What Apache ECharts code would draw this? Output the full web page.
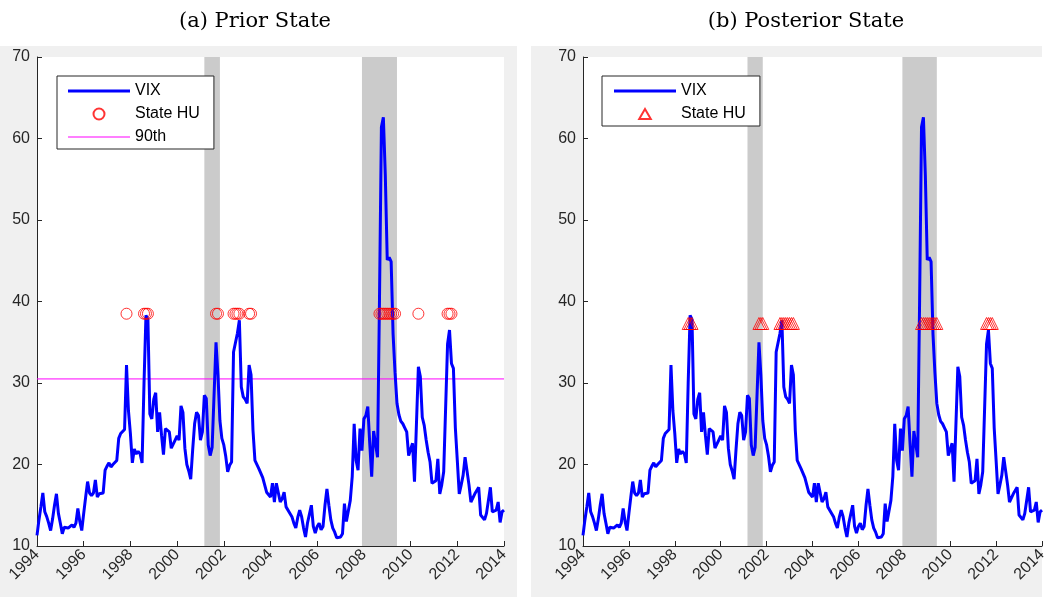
<!DOCTYPE html>
<html><head><meta charset="utf-8">
<script src="https://cdn.jsdelivr.net/npm/echarts@6/dist/echarts.min.js"></script>
<style>html,body{margin:0;padding:0;background:#fff}#c{width:1061px;height:597px}</style>
</head><body><div id="c"></div>
<script>
// ---------------- data ----------------
const startYear = 1994;              // first observation: Jan 1994, monthly
const vix = [
 11.3,13.2,14.8,16.5,14.2,13.6,12.8,11.9,13.3,15.0,16.4,14.0, // 1994
 12.8,11.5,12.3,12.5,12.2,12.3,12.6,12.3,12.8,14.6,13.0,11.9, // 1995
 14.0,16.0,17.9,16.5,16.2,16.5,18.1,16.0,16.4,16.2,16.5,19.3, // 1996
 19.8,20.2,19.7,20.0,20.2,20.5,23.2,23.8,24.0,24.3,32.2,26.6, // 1997
 23.8,20.2,21.9,21.3,21.6,21.3,20.2,30.0,38.3,37.8,26.2,25.6, // 1998
 28.0,28.8,24.0,26.4,23.6,21.2,24.4,24.6,24.0,22.0,22.5,23.0, // 1999
 23.5,23.0,27.2,26.4,22.0,20.0,19.2,18.2,21.8,25.0,26.4,26.0, // 2000
 23.0,24.0,28.5,28.1,22.4,21.1,22.1,21.9,35.0,31.0,25.4,23.2, // 2001
 22.4,21.0,19.1,19.9,20.3,33.8,34.0,36.1,37.7,29.5,28.3,28.0, // 2002
 27.5,32.2,31.0,24.2,20.5,20.3,19.5,19.5,18.4,17.5,16.6,16.4, // 2003
 16.0,17.7,15.4,17.7,17.7,15.4,15.8,16.6,14.8,15.0,14.0,13.6, // 2004
 12.8,12.2,13.5,14.4,13.6,12.2,11.1,12.8,13.0,15.0,12.4,11.6, // 2005
 12.4,12.8,12.0,12.4,15.0,17.0,15.0,13.2,12.2,11.7,11.0,11.0, // 2006
 11.1,11.5,15.2,13.0,13.2,15.6,18.5,25.0,20.5,19.3,24.4,21.7, // 2007
 25.6,26.0,27.1,22.6,18.5,24.1,24.1,20.9,40.0,61.4,62.6,55.5, // 2008
 45.1,45.4,44.9,36.0,31.3,27.5,26.1,25.3,25.0,24.5,24.0,21.1, // 2009
 21.0,22.6,17.9,17.7,32.0,30.8,25.8,24.8,23.0,21.5,20.3,17.7, // 2010
 17.5,18.0,20.7,16.4,17.5,19.1,19.3,34.8,36.5,32.4,31.8,24.5, // 2011
 20.5,16.4,17.5,18.7,20.9,21.1,17.5,15.4,15.6,16.4,16.6,17.2, // 2012
 13.8,14.0,13.2,14.0,14.0,17.2,14.2,14.2,14.4,15.4,12.9,14.2, // 2013
 14.4                                                          // 2014
];
const percentile90 = 30.5;
const priorMarkerLevel = 38.5;
const posteriorMarkerLevel = 37.3;
const priorHU = ['1997-11','1998-08','1998-09','1998-10','2001-09','2001-10',
  '2002-06','2002-07','2002-08','2002-09','2003-02','2003-03',
  '2008-09','2008-10','2008-11','2008-12','2009-01','2009-02','2009-03','2009-04','2009-05',
  '2010-05','2011-08','2011-09','2011-10'];
const posteriorHU = ['1998-08','1998-09','1998-10','2001-09','2001-10','2001-11',
  '2002-08','2002-09','2002-10','2002-11','2002-12','2003-01','2003-02','2003-03',
  '2008-10','2008-11','2008-12','2009-01','2009-02','2009-03','2009-04','2009-05','2009-06',
  '2011-08','2011-09','2011-10','2011-11'];
const recessions = [['2001-03','2001-11'],['2007-12','2009-06']];
const xTicks = {min:1994, max:2014, step:2};
const yTicks = {min:10, max:70, step:10};
const titles = ['(a) Prior State','(b) Posterior State'];

// ---------------- helpers ----------------
function ym(s){const p=s.split('-').map(Number);return p[0]+(p[1]-1)/12;}
const vixData = vix.map((v,i)=>[startYear+i/12, v]);
const shade = recessions.map(r=>[{xAxis:ym(r[0])},{xAxis:ym(r[1])}]);

const AX = '#262626';
const FONT = 'Liberation Sans, Arial, sans-serif';
const grids = [
  {left:37, top:57, width:467, height:489},
  {left:583, top:57, width:459, height:489}
];
// legend icons (62 x 11 boxes; corner points fix the box)
const ICON_THICK = 'path://M0,0L0.01,0M0,4L62,4L62,7L0,7ZM62,11L61.99,11';
const ICON_THIN  = 'path://M0,0L0.01,0M0,5L62,5L62,6L0,6ZM62,11L61.99,11';
const ICON_TRI   = 'path://M0,0L0.01,0M31,0.5L36.8,10.5L25.2,10.5ZM62,11L61.99,11';

function xAxis(i){return {gridIndex:i,type:'value',min:xTicks.min,max:xTicks.max,interval:xTicks.step,
  axisLine:{show:true,onZero:false,lineStyle:{color:AX,width:1}},
  axisTick:{show:true,inside:true,length:5,lineStyle:{color:AX}},
  splitLine:{show:false},
  axisLabel:{rotate:45,margin:6,fontSize:16,color:AX,fontFamily:FONT,formatter:v=>String(v)}};}
function yAxis(i){return {gridIndex:i,type:'value',min:yTicks.min,max:yTicks.max,interval:yTicks.step,
  axisLine:{show:true,onZero:false,lineStyle:{color:AX,width:1}},
  axisTick:{show:true,inside:true,length:5,lineStyle:{color:AX}},
  splitLine:{show:false},
  axisLabel:{margin:7,fontSize:16,color:AX,fontFamily:FONT}};}
function vixSeries(i,suffix){return {name:'VIX'+suffix,type:'line',xAxisIndex:i,yAxisIndex:i,data:vixData,
  symbol:'none',lineStyle:{color:'#0000ff',width:3},itemStyle:{color:'#0000ff'},z:3,silent:true,
  markArea:{silent:true,itemStyle:{color:'#cbcbcb'},data:shade}};}
const legendBase = {orient:'vertical',itemWidth:62,itemHeight:11,itemGap:7,
  borderColor:AX,borderWidth:1,backgroundColor:'#fff',selectedMode:false,
  padding:[7,14,4,11],
  textStyle:{fontSize:16,color:'#000',fontFamily:FONT}};

const chart = echarts.init(document.getElementById('c'),null,{renderer:'canvas'});
chart.setOption({
  animation:false,
  backgroundColor:'#ffffff',
  graphic:[
    {type:'rect',z:-10,shape:{x:0,y:46,width:517,height:551},style:{fill:'#f0f0f0'}},
    {type:'rect',z:-10,shape:{x:531,y:46,width:511,height:551},style:{fill:'#f0f0f0'}}
  ],
  title:[
    {text:titles[0],left:255,top:11,textAlign:'center',padding:0,
     textStyle:{fontFamily:'DejaVu Serif',fontWeight:'normal',fontSize:21,color:'#000'}},
    {text:titles[1],left:806,top:11,textAlign:'center',padding:0,
     textStyle:{fontFamily:'DejaVu Serif',fontWeight:'normal',fontSize:21,color:'#000'}}
  ],
  grid:grids.map(g=>Object.assign({show:true,backgroundColor:'#fff',borderWidth:0},g)),
  xAxis:[xAxis(0),xAxis(1)],
  yAxis:[yAxis(0),yAxis(1)],
  legend:[
    Object.assign({left:57,top:76,
      data:[{name:'VIX (a)',icon:ICON_THICK},{name:'State HU (a)'},{name:'90th (a)',icon:ICON_THIN}],
      formatter:n=>n.replace(' (a)','')},legendBase),
    Object.assign({left:602,top:76,
      data:[{name:'VIX (b)',icon:ICON_THICK},{name:'State HU (b)',icon:ICON_TRI}],
      formatter:n=>n.replace(' (b)','')},legendBase)
  ],
  series:[
    vixSeries(0,' (a)'),
    {name:'State HU (a)',type:'scatter',xAxisIndex:0,yAxisIndex:0,symbol:'circle',symbolSize:11,z:4,silent:true,
     itemStyle:{color:'rgba(0,0,0,0)',borderColor:'#ff0000',borderWidth:1},
     data:priorHU.map(s=>[ym(s),priorMarkerLevel])},
    {name:'90th (a)',type:'line',xAxisIndex:0,yAxisIndex:0,symbol:'none',z:2,silent:true,
     lineStyle:{color:'#ff00ff',width:1},itemStyle:{color:'#ff00ff'},
     data:[[xTicks.min,percentile90],[xTicks.max,percentile90]]},
    vixSeries(1,' (b)'),
    {name:'State HU (b)',type:'scatter',xAxisIndex:1,yAxisIndex:1,symbol:'triangle',symbolSize:12,z:4,silent:true,
     itemStyle:{color:'rgba(0,0,0,0)',borderColor:'#ff0000',borderWidth:1},
     data:posteriorHU.map(s=>[ym(s),posteriorMarkerLevel])}
  ]
});
</script></body></html>
